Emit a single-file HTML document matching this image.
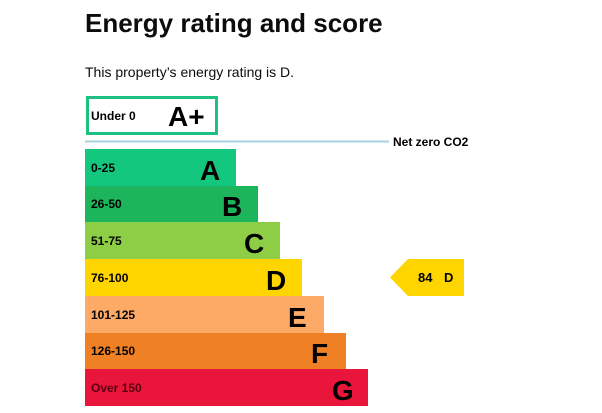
<!DOCTYPE html>
<html><head><meta charset="utf-8"><style>
html,body{margin:0;padding:0;background:#fff;width:602px;height:413px;overflow:hidden}
</style></head><body>
<svg width="602" height="413" xmlns="http://www.w3.org/2000/svg" font-family="Liberation Sans, Arial, sans-serif">
<text x="85" y="32" font-size="26" font-weight="bold" fill="#0b0c0c">Energy rating and score</text>
<text x="85" y="77" font-size="14" fill="#0b0c0c">This property’s energy rating is D.</text>
<rect x="87.5" y="97.5" width="129" height="36" fill="#fff" stroke="#1dc17f" stroke-width="3"/>
<text x="91" y="120" font-size="12" font-weight="bold">Under 0</text>
<text x="168" y="126" font-size="28" font-weight="bold">A+</text>
<line x1="85" y1="141.5" x2="389" y2="141.5" stroke="#a7d3e0" stroke-width="2"/>
<text x="393" y="146" font-size="12" font-weight="bold">Net zero CO2</text>
<g font-weight="bold">
<rect x="85" y="149" width="151" height="37" fill="#14c77f"/>
<text x="91" y="172" font-size="12">0-25</text><text x="200" y="180" font-size="28">A</text>
<rect x="85" y="186" width="173" height="36" fill="#1db55c"/>
<text x="91" y="208" font-size="12">26-50</text><text x="222" y="216" font-size="28">B</text>
<rect x="85" y="222" width="195" height="37" fill="#8dce46"/>
<text x="91" y="245" font-size="12">51-75</text><text x="244" y="253" font-size="28">C</text>
<rect x="85" y="259" width="217" height="37" fill="#ffd500"/>
<text x="91" y="282" font-size="12">76-100</text><text x="266" y="290" font-size="28">D</text>
<rect x="85" y="296" width="239" height="37" fill="#fcaa65"/>
<text x="91" y="319" font-size="12">101-125</text><text x="288" y="327" font-size="28">E</text>
<rect x="85" y="333" width="261" height="36" fill="#ef8023"/>
<text x="91" y="355" font-size="12">126-150</text><text x="311" y="363" font-size="28">F</text>
<rect x="85" y="369" width="283" height="37" fill="#e9153b"/>
<text x="91" y="392" font-size="12" fill="#5a0010">Over 150</text><text x="332" y="400" font-size="28">G</text>
<polygon points="390,277.5 408,259 464,259 464,296 408,296" fill="#ffd500"/>
<text x="418" y="282" font-size="13">84</text><text x="444" y="282" font-size="13">D</text>
</g>
</svg>
</body></html>
